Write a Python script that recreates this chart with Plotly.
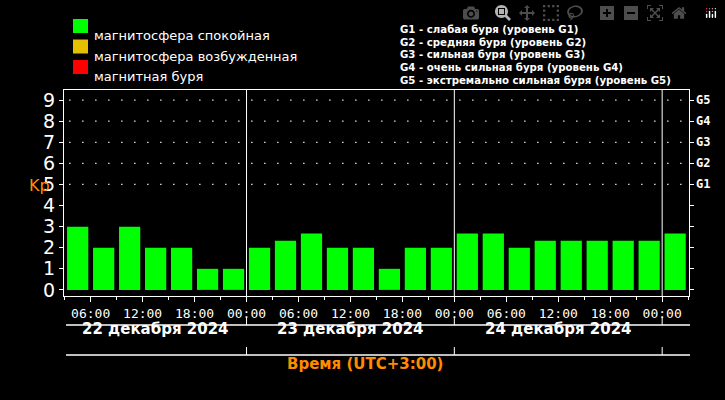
import plotly.graph_objects as go

# hours since 22 Dec 2024 00:00 (UTC+3), 3-hour Kp intervals
slot_start = [3,6,9,12,15,18,21, 24,27,30,33,36,39,42,45, 48,51,54,57,60,63,66,69, 72]
kp_values = [3,2,3,2,2,1,1, 2,2.33,2.67,2,2,1,2,2, 2.67,2.67,2,2.33,2.33,2.33,2.33,2.33, 2.67]
tick_hours = [6,12,18,24,30,36,42,48,54,60,66,72]
tick_text = ["06:00","12:00","18:00","00:00"]*3
day_bounds = [24,48,72]
day_labels = ["22 декабря 2024","23 декабря 2024","24 декабря 2024"]
day_centers = [13.5,36,60]
g_levels = [5,6,7,8,9]
g_labels = ["G1","G2","G3","G4","G5"]
legend_left = ["магнитосфера спокойная","магнитосфера возбужденная","магнитная буря"]
legend_colors = ["#00ff00","#e6c000","#ff0000"]
legend_right = ["G1 - слабая буря (уровень G1)","G2 - средняя буря (уровень G2)",
                "G3 - сильная буря (уровень G3)","G4 - очень сильная буря (уровень G4)",
                "G5 - экстремально сильная буря (уровень G5)"]

L,R,T,B = 64,689,90,296
W,H = R-L,B-T
px = lambda p:(p-L)/W
py = lambda p:(B-p)/H
X0,X1 = 2.92,75.1

fig = go.Figure(go.Bar(x=[s+1.5 for s in slot_start], y=kp_values, width=2.45,
                       marker=dict(color="#00ff00", line=dict(width=0))))
shapes=[]; ann=[]
for g in g_levels:
    shapes.append(dict(type="line",xref="x",yref="y",x0=X0+0.6,x1=X1,y0=g,y1=g,
                       line=dict(color="white",width=1.3,dash="1.3px,11.7px")))
for d in day_bounds:
    shapes.append(dict(type="line",xref="x",yref="paper",x0=d,x1=d,y0=0,y1=1,line=dict(color="white",width=1)))
    for a,b in [(317,325),(347,355)]:
        shapes.append(dict(type="line",xref="x",yref="paper",x0=d,x1=d,y0=py(a),y1=py(b),line=dict(color="white",width=1)))
for p in [325,355]:
    shapes.append(dict(type="line",xref="paper",yref="paper",x0=px(66),x1=px(690),y0=py(p),y1=py(p),line=dict(color="white",width=1.5)))
for t,c in zip(day_labels,day_centers):
    ann.append(dict(x=c,y=py(340),xref="x",yref="paper",text="<b>"+t+"</b>",showarrow=False,
                    font=dict(family="DejaVu Sans",size=15,color="white")))
for g,t in zip(g_levels,g_labels):
    ann.append(dict(x=px(694),y=g,xref="paper",yref="y",text="<b>"+t+"</b>",showarrow=False,xanchor="left",
                    font=dict(family="DejaVu Sans Mono",size=12,color="white")))
for i,(t,c) in enumerate(zip(legend_left,legend_colors)):
    yc=26+20.5*i
    shapes.append(dict(type="rect",xref="paper",yref="paper",x0=px(73),x1=px(88),y0=py(yc-7),y1=py(yc+7),
                       fillcolor=c,line=dict(width=0)))
    ann.append(dict(x=px(92),y=py(yc),xref="paper",yref="paper",text=t,showarrow=False,xanchor="left",
                    font=dict(family="DejaVu Sans",size=13,color="white")))
for i,t in enumerate(legend_right):
    ann.append(dict(x=px(398),y=py(22+12.7*i),xref="paper",yref="paper",text="<b>"+t+"</b>",showarrow=False,xanchor="left",
                    font=dict(family="DejaVu Sans",size=10.2,color="white")))
ann.append(dict(x=px(27),y=py(185),xref="paper",yref="paper",text="K<sub>p</sub>".replace("<sub>p</sub>","p"),showarrow=False,
                font=dict(family="DejaVu Sans",size=16,color="#ff8c00")))
ann.append(dict(x=px(365),y=py(375),xref="paper",yref="paper",text="<b>Время (UTC+3:00)</b>",showarrow=False,
                font=dict(family="DejaVu Sans",size=15,color="#ff8c00")))

fig.update_layout(width=725,height=400,margin=dict(l=L,r=725-R,t=T,b=400-B,autoexpand=False),
    paper_bgcolor="black",plot_bgcolor="black",showlegend=False,shapes=shapes,annotations=ann,
    xaxis=dict(range=[X0,X1],tickvals=tick_hours,ticktext=tick_text,ticks="outside",ticklen=5,
               tickcolor="white",showgrid=False,zeroline=False,showline=True,linecolor="white",mirror=True,
               tickfont=dict(family="DejaVu Sans Mono",size=13,color="white"),
               minor=dict(dtick=3,tick0=0,ticks="outside",ticklen=3,tickcolor="white")),
    yaxis=dict(range=[-0.29,9.48],tickvals=list(range(10)),ticks="outside",ticklen=4,tickcolor="white",
               showgrid=False,zeroline=False,showline=True,linecolor="white",mirror="ticks",
               tickfont=dict(family="DejaVu Sans",size=19,color="white")))
fig.write_html("out.html")
with open("out.html", encoding="utf-8") as f:
    html = f.read()
html = html.replace("<head>", "<head><style>html,body{margin:0;padding:0;background:black}</style>", 1)
with open("out.html", "w", encoding="utf-8") as f:
    f.write(html)
